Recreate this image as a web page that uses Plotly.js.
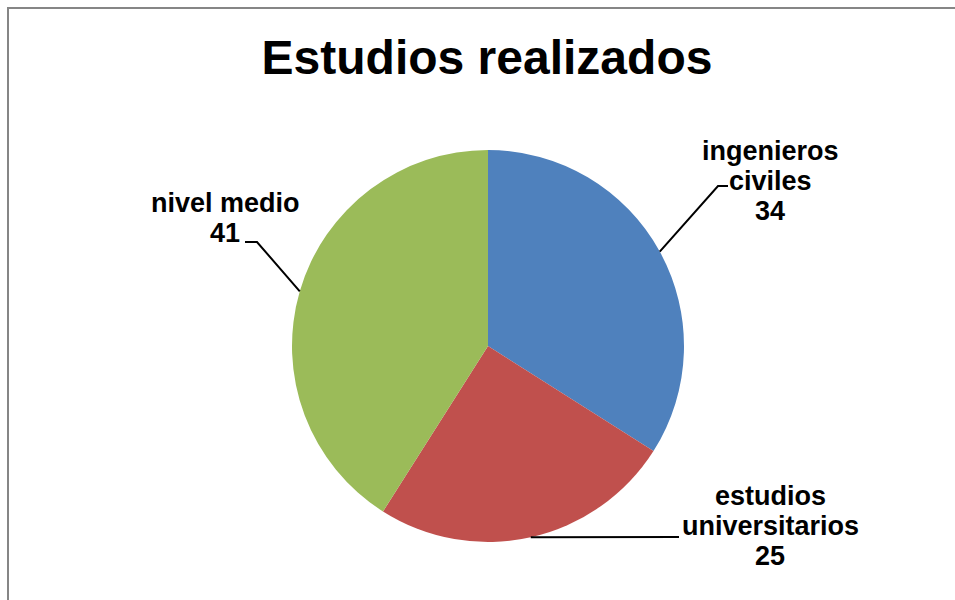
<!DOCTYPE html>
<html>
<head>
<meta charset="utf-8">
<script src="https://cdn.plot.ly/plotly-3.0.1.min.js"></script>
<style>html,body{margin:0;padding:0;background:#fff;}#chart{width:955px;height:600px;}</style>
</head>
<body>
<div id="chart"></div>
<script>
// ---- data ----
const categories = ["ingenieros civiles", "estudios universitarios", "nivel medio"];
const labelLines = [["ingenieros", "civiles"], ["estudios", "universitarios"], ["nivel medio"]];
const values = [34, 25, 41];
const colors = ["#4F81BD", "#C0504D", "#9BBB59"];
const chartTitle = "Estudios realizados";

// ---- layout constants (pixels) ----
const W = 955, H = 600;
const CX = 488, CY = 346, R = 196;
const FONT = "Liberation Sans, Arial, sans-serif";
const LABEL_SIZE = 27, LINE_GAP = 30;
// per-slice label placement: elbow point, line end, text center x, first baseline y
const labelStyle = [
  {elbow: [718, 186], end: [728, 186], tx: 770, by: 160},
  {elbow: null,       end: [679, 537], tx: 770, by: 505},
  {elbow: [257, 242], end: [245, 242], tx: 225, by: 212}
];

const px = x => x / W;
const py = y => 1 - y / H;

const total = values.reduce((a, b) => a + b, 0);
const shapes = [{
  type: "rect", xref: "paper", yref: "paper",
  x0: px(8), x1: px(W + 10), y0: py(H + 10), y1: py(8),
  line: {color: "#868686", width: 2}, fillcolor: "rgba(0,0,0,0)"
}];
const annotations = [];
let cum = 0;
values.forEach((v, i) => {
  const mid = (cum + v / 2) / total * 2 * Math.PI;
  cum += v;
  const sx = CX + R * Math.sin(mid);
  const sy = CY - R * Math.cos(mid);
  const st = labelStyle[i];
  let path = `M ${px(sx)} ${py(sy)}`;
  if (st.elbow) path += ` L ${px(st.elbow[0])} ${py(st.elbow[1])}`;
  path += ` L ${px(st.end[0])} ${py(st.end[1])}`;
  shapes.push({type: "path", xref: "paper", yref: "paper", path: path,
               line: {color: "#000", width: 2}});
  const lines = labelLines[i].concat([String(v)]);
  lines.forEach((t, k) => {
    annotations.push({
      xref: "paper", yref: "paper",
      x: px(st.tx), y: py(st.by + k * LINE_GAP - 0.35 * LABEL_SIZE),
      xanchor: "center", yanchor: "middle",
      text: "<b>" + t + "</b>", showarrow: false,
      font: {family: FONT, size: LABEL_SIZE, color: "#000"}
    });
  });
});

const trace = {
  type: "pie",
  labels: categories,
  values: values,
  sort: false,
  direction: "clockwise",
  rotation: 0,
  textinfo: "none",
  hoverinfo: "label+value",
  marker: {colors: colors, line: {width: 0}},
  showlegend: false,
  domain: {x: [px(CX - R), px(CX + R)], y: [py(CY + R), py(CY - R)]}
};

const layout = {
  width: W, height: H,
  margin: {l: 0, r: 0, t: 0, b: 0},
  paper_bgcolor: "#fff",
  title: {
    text: "<b>" + chartTitle + "</b>",
    font: {family: FONT, size: 48, color: "#000"},
    x: px(487), xanchor: "center", y: py(74 - 0.35 * 48), yanchor: "middle"
  },
  shapes: shapes,
  annotations: annotations,
  showlegend: false
};

Plotly.newPlot("chart", [trace], layout, {displayModeBar: false, staticPlot: true});
</script>
</body>
</html>
